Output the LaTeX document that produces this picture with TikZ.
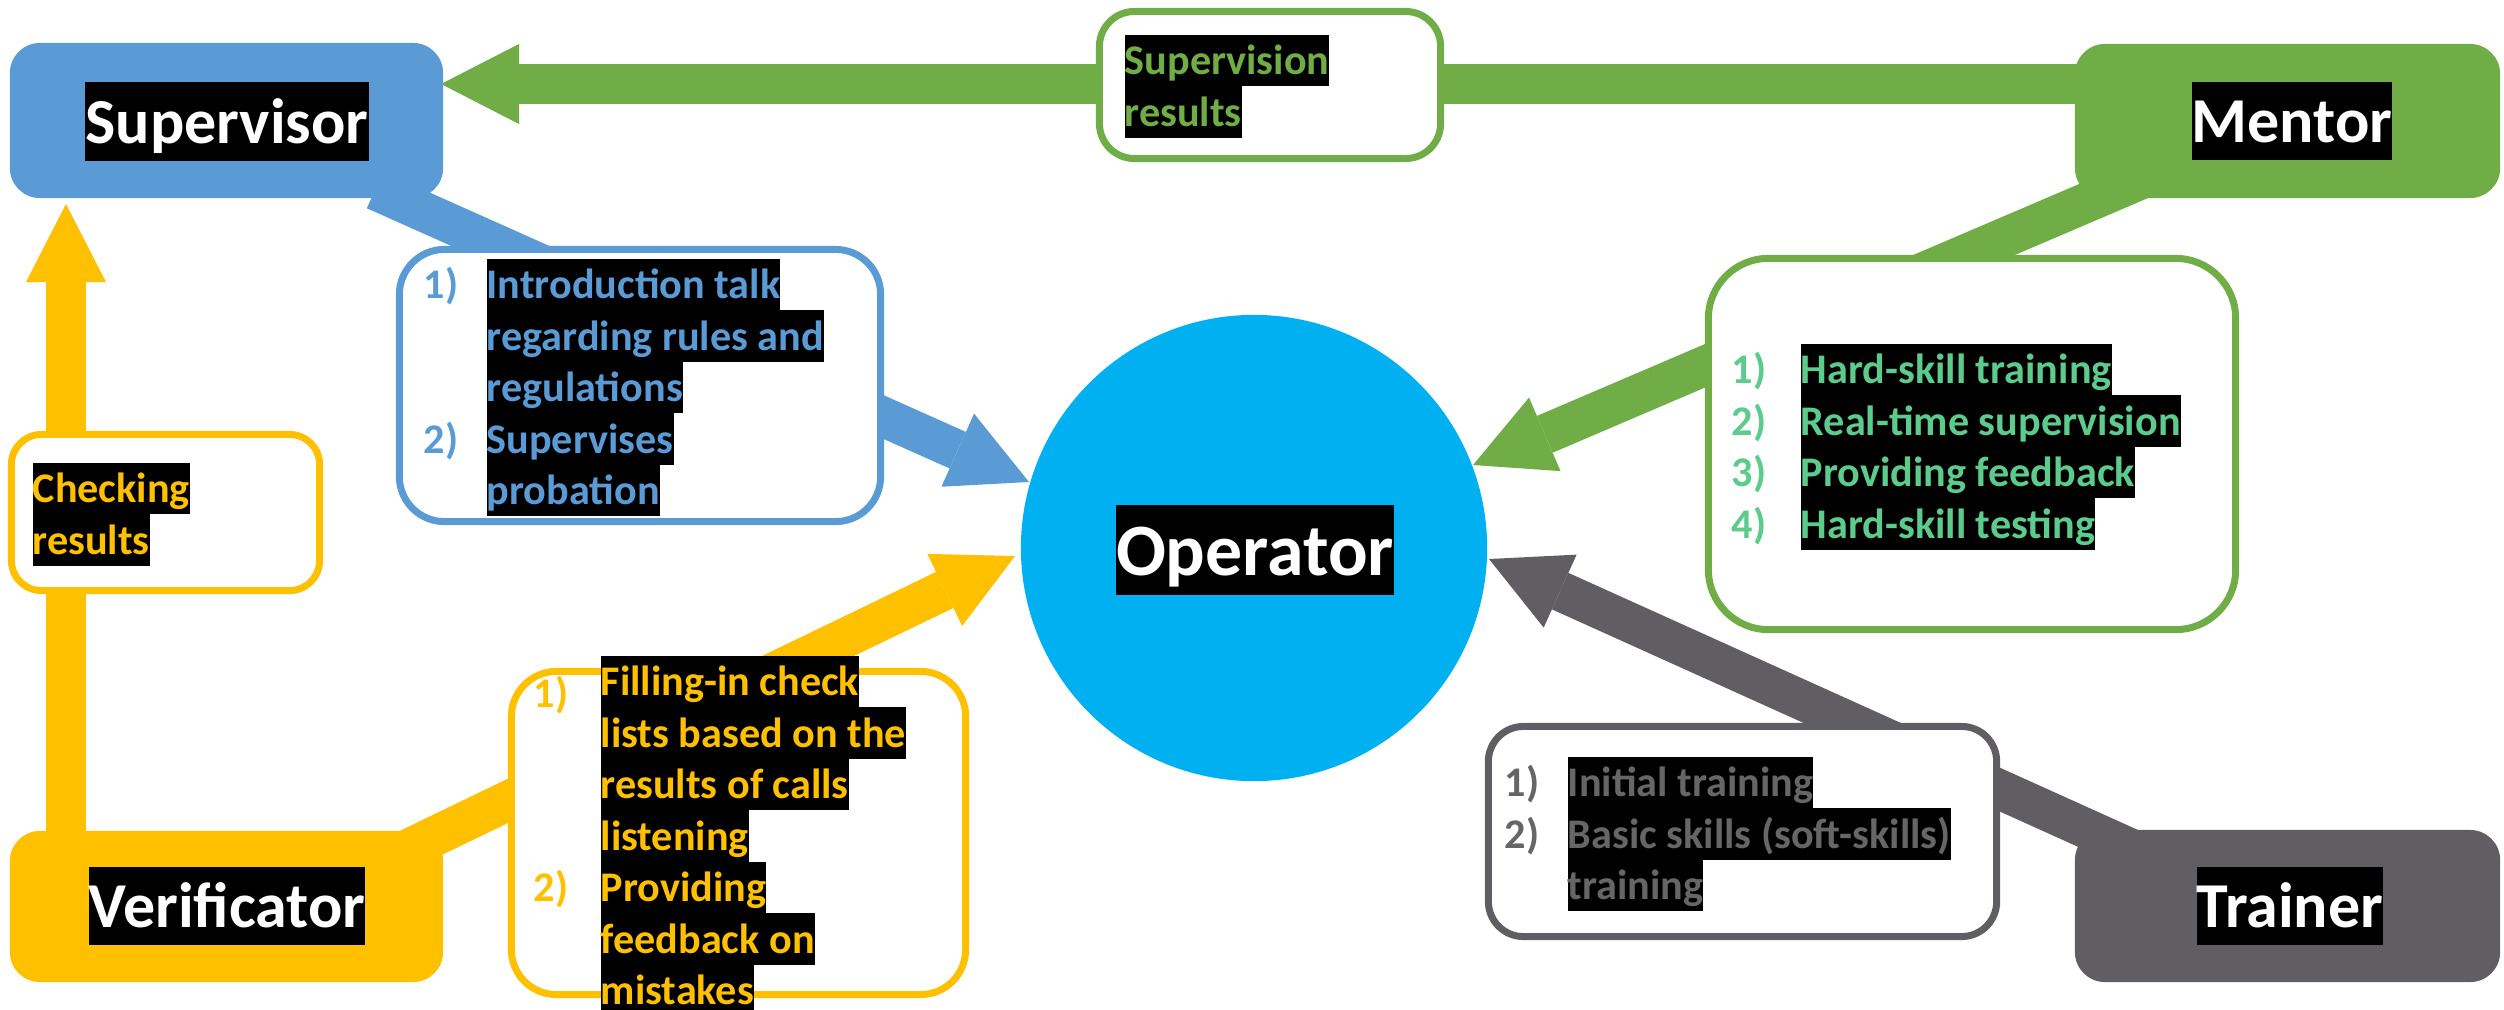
\documentclass[tikz,border=0pt]{standalone}
\usepackage{fontspec}
\setmainfont{Carlito}
\usetikzlibrary{arrows.meta}
\definecolor{cblue}{HTML}{5B9BD5}
\definecolor{cgreen}{HTML}{70AD47}
\definecolor{cyel}{HTML}{FFC000}
\definecolor{cgray}{HTML}{605E62}
\definecolor{cop}{HTML}{00B0F0}
\definecolor{cmint}{HTML}{5CCB8C}
\definecolor{cgtext}{HTML}{666666}
\tikzset{
  hl/.style={fill=black, inner sep=0pt, anchor=north west, text height=11.42pt, text depth=3.23pt, font=\bfseries\fontsize{12}{14}\selectfont},
  num/.style={inner sep=0pt, anchor=north west, text height=11.42pt, text depth=3.23pt, font=\bfseries\fontsize{12}{14}\selectfont},
  rolelabel/.style={fill=black, text=white, inner sep=0pt, text height=17.3pt, text depth=4.9pt, font=\bfseries\fontsize{18.2}{22}\selectfont},
  rolebox/.style={rectangle, rounded corners=0.3cm, inner sep=0pt},
  listbox/.style={rectangle, rounded corners=0.45cm, fill=white, line width=0.07cm, inner sep=0pt},
  blockarrow/.style={line width=0.4cm, -{Triangle[length=0.78cm, width=0.8cm, line width=0pt]}},
}
\begin{document}
\begin{tikzpicture}[x=0.01cm, y=-0.01cm]
\useasboundingbox (0,0) rectangle (2504,1009);

% operator
\node[circle, fill=cop, minimum size=4.66cm, inner sep=0pt] (op) at (1254,548) {};

% arrow end points
\coordinate (gS) at (2100,84);  \coordinate (gT) at (441,84);
\coordinate (bS) at (375,190);  \coordinate (bT) at (1029,482);
\coordinate (mS) at (2144,178); \coordinate (mT) at (1473,465);
\coordinate (tS) at (2178,870); \coordinate (tT) at (1489,559);
\coordinate (yS) at (344,880);  \coordinate (yT) at (1015,556);
\coordinate (vS) at (66,840);   \coordinate (vT) at (66,204);

% arrows
\draw[blockarrow, cgreen] (gS) -- (gT);
\draw[blockarrow, cblue]  (bS) -- (bT);
\draw[blockarrow, cgreen] (mS) -- (mT);
\draw[blockarrow, cgray]  (tS) -- (tT);
\draw[blockarrow, cyel]   (yS) -- (yT);
\draw[blockarrow, cyel]   (vS) -- (vT);

% role boxes
\node[rolebox, fill=cblue, minimum width=4.33cm, minimum height=1.55cm] (sup) at (226.5,120.5) {};
\node[rolebox, fill=cgreen, minimum width=4.25cm, minimum height=1.54cm] (men) at (2287.5,121) {};
\node[rolebox, fill=cyel, minimum width=4.33cm, minimum height=1.51cm] (ver) at (226.5,906.5) {};
\node[rolebox, fill=cgray, minimum width=4.25cm, minimum height=1.52cm] (tra) at (2287.5,906) {};

\node[rolelabel] (supL) at (227,121.5) {Supervisor};
\node[rolelabel] (menL) at (2292,121) {Mentor};
\node[rolelabel] (verL) at (227,906) {Verificator};
\node[rolelabel] (traL) at (2290,906) {Trainer};
\node[fill=black, text=white, inner sep=0pt, text height=19.9pt, text depth=5.6pt, font=\bfseries\fontsize{21}{25}\selectfont] (opL) at (1255,550) {Operator};

% list boxes
\node[listbox, draw=cgreen, rounded corners=0.35cm, minimum width=3.41cm, minimum height=1.47cm] (srB) at (1270,85) {};
\node[listbox, draw=cblue, minimum width=4.81cm, minimum height=2.72cm] (inB) at (640,385.5) {};
\node[listbox, draw=cgreen, rounded corners=0.6cm, minimum width=5.27cm, minimum height=3.71cm] (mlB) at (1972,444) {};
\node[listbox, draw=cgray, rounded corners=0.35cm, minimum width=5.08cm, minimum height=2.10cm] (tlB) at (1742.5,831.5) {};
\node[listbox, draw=cyel, minimum width=4.54cm, minimum height=3.23cm] (vlB) at (738.5,833) {};
\node[listbox, draw=cyel, rounded corners=0.3cm, minimum width=3.08cm, minimum height=1.56cm] (ckB) at (165.5,512.5) {};

% supervision results
\node[hl, text=cgreen] (sr1) at (1124,34) {Supervision};
\node[hl, text=cgreen] (sr2) at (1124,85.5) {results};

% supervisor list
\node[num, text=cblue] (in1n) at (423,258) {1)};
\node[hl, text=cblue] (in1a) at (486,258) {Introduction talk};
\node[hl, text=cblue] (in1b) at (486,309.5) {regarding rules and};
\node[hl, text=cblue] (in1c) at (486,361) {regulations};
\node[num, text=cblue] (in2n) at (423,412.5) {2)};
\node[hl, text=cblue] (in2a) at (486,412.5) {Supervises};
\node[hl, text=cblue] (in2b) at (486,464) {probation};

% mentor list
\node[num, text=cmint] (ml1n) at (1731,343) {1)};
\node[hl, text=cmint] (ml1) at (1800,343) {Hard-skill training};
\node[num, text=cmint] (ml2n) at (1731,394.5) {2)};
\node[hl, text=cmint] (ml2) at (1800,394.5) {Real-time supervision};
\node[num, text=cmint] (ml3n) at (1731,446) {3)};
\node[hl, text=cmint] (ml3) at (1800,446) {Providing feedback};
\node[num, text=cmint] (ml4n) at (1731,497.5) {4)};
\node[hl, text=cmint] (ml4) at (1800,497.5) {Hard-skill testing};

% trainer list
\node[num, text=cgtext] (tl1n) at (1504,756) {1)};
\node[hl, text=cgtext] (tl1) at (1567,756) {Initial training};
\node[num, text=cgtext] (tl2n) at (1504,807.5) {2)};
\node[hl, text=cgtext] (tl2a) at (1567,807.5) {Basic skills (soft-skills)};
\node[hl, text=cgtext] (tl2b) at (1567,859) {training};

% verificator list
\node[num, text=cyel] (vl1n) at (533,667) {1)};
\node[hl, text=cyel] (vl1a) at (600,655) {Filling-in check};
\node[hl, text=cyel] (vl1b) at (600,706.5) {lists based on the};
\node[hl, text=cyel] (vl1c) at (600,758) {results of calls};
\node[hl, text=cyel] (vl1d) at (600,809.5) {listening};
\node[num, text=cyel] (vl2n) at (533,861) {2)};
\node[hl, text=cyel] (vl2a) at (600,861) {Providing};
\node[hl, text=cyel] (vl2b) at (600,912.5) {feedback on};
\node[hl, text=cyel] (vl2c) at (600,964) {mistakes};

% checking results
\node[hl, text=cyel] (ck1) at (32,462) {Checking};
\node[hl, text=cyel] (ck2) at (32,513.5) {results};
\end{tikzpicture}
\end{document}
